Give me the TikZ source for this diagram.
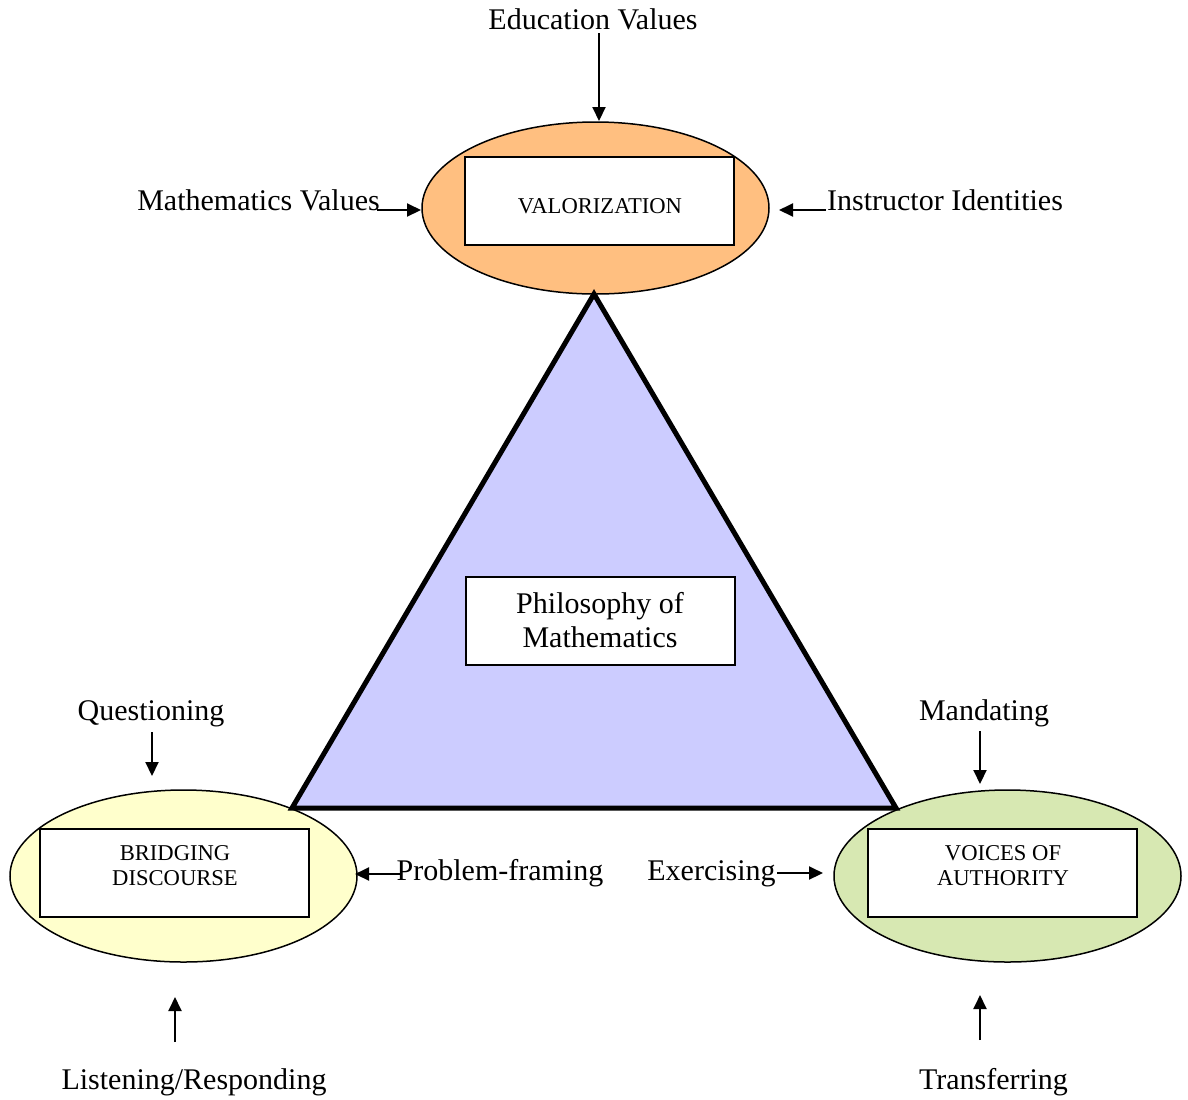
\documentclass[tikz,border=0pt]{standalone}
\usepackage{fontspec}
\setmainfont{Liberation Serif}
\usetikzlibrary{shapes.geometric,arrows.meta}
\definecolor{ovorange}{HTML}{FFBF80}
\definecolor{ovyellow}{HTML}{FFFFCC}
\definecolor{ovgreen}{HTML}{D7E8B2}
\definecolor{triblue}{HTML}{CCCCFF}
\begin{document}
\begin{tikzpicture}[x=0.5pt,y=-0.5pt,
 big/.style={font=\fontsize{15pt}{17pt}\selectfont, inner sep=0pt, align=center},
 small/.style={font=\fontsize{11.3pt}{12.5pt}\selectfont, inner sep=0pt, align=center},
 oval/.style={ellipse, draw=black, line width=0.75pt, minimum width=173.5pt, minimum height=86pt, inner sep=0pt},
 box/.style={draw=black, fill=white, line width=1pt, minimum width=134.5pt, minimum height=44pt, inner sep=0pt},
 arr/.style={line width=1pt, -{Triangle[length=7pt,width=6.5pt]}},
]
\useasboundingbox (0,0) rectangle (1188,1099);
% ellipses
\node[oval, fill=ovorange] (valell) at (595.5,208) {};
\node[oval, fill=ovyellow] (brell) at (183.5,876) {};
\node[oval, fill=ovgreen] (voell) at (1007.5,876) {};
% triangle
\coordinate (ta) at (594,294);
\coordinate (tl) at (292,808);
\coordinate (tr) at (896,808);
\draw[line width=2.5pt, fill=triblue] (ta) -- (tl) -- (tr) -- cycle;
% boxes
\node[box] (valbox) at (599.5,201) {};
\node[box] (phbox) at (600,621) {};
\node[box] (brbox) at (174.5,872.5) {};
\node[box] (vobox) at (1002.5,872.5) {};
% box texts
\node[small, anchor=base] (valtxt) at (600,213) {VALORIZATION};
\node[big] (phtxt) at (600,620) {Philosophy of\\Mathematics};
\node[small] (brtxt) at (175,866) {BRIDGING\\DISCOURSE};
\node[small] (votxt) at (1003,866) {VOICES OF\\AUTHORITY};
% outer labels
\node[big, anchor=base] (edu) at (593,29) {Education Values};
\node[big, anchor=base] (mathv) at (258.5,210) {Mathematics Values};
\node[big, anchor=base] (instr) at (945,210) {Instructor Identities};
\node[big, anchor=base] (quest) at (151,720) {Questioning};
\node[big, anchor=base] (mand) at (984,720) {Mandating};
\node[big, anchor=base] (prob) at (500,880) {Problem-framing};
\node[big, anchor=base] (exer) at (711.5,880) {Exercising};
\node[big, anchor=base] (listen) at (194,1089) {Listening/Responding};
\node[big, anchor=base] (trans) at (993.5,1089) {Transferring};
% arrow ends
\coordinate (eduS) at (599,33);   \coordinate (eduE) at (599,121);
\coordinate (mathS) at (377,210); \coordinate (mathE) at (421,210);
\coordinate (insS) at (826,210);  \coordinate (insE) at (779,210);
\coordinate (qS) at (152,732);    \coordinate (qE) at (152,776);
\coordinate (mS) at (980,731);    \coordinate (mE) at (980,784);
\coordinate (pS) at (401,874);    \coordinate (pE) at (355,874);
\coordinate (xS) at (777,873);    \coordinate (xE) at (823,873);
\coordinate (lS) at (175,1042);   \coordinate (lE) at (175,997);
\coordinate (tS) at (980,1040);   \coordinate (tE) at (980,995);
\draw[arr] (eduS) -- (eduE);
\draw[arr] (mathS) -- (mathE);
\draw[arr] (insS) -- (insE);
\draw[arr] (qS) -- (qE);
\draw[arr] (mS) -- (mE);
\draw[arr] (pS) -- (pE);
\draw[arr] (xS) -- (xE);
\draw[arr] (lS) -- (lE);
\draw[arr] (tS) -- (tE);
\end{tikzpicture}
\end{document}
